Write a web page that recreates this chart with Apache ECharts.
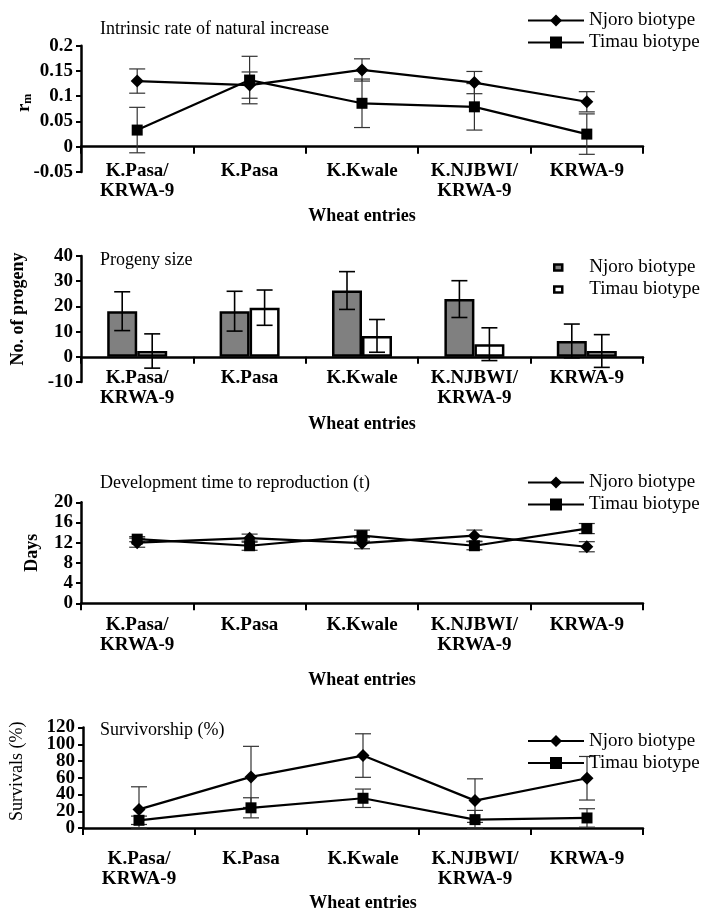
<!DOCTYPE html>
<html><head><meta charset="utf-8">
<script src="https://cdn.jsdelivr.net/npm/echarts@6/dist/echarts.min.js"></script>
<style>html,body{margin:0;padding:0;background:#fff}#c{width:703px;height:913px}</style>
</head><body><div id="c"></div>
<script>
// ---------- data ----------
const categories = ['K.Pasa/\nKRWA-9', 'K.Pasa', 'K.Kwale', 'K.NJBWI/\nKRWA-9', 'KRWA-9'];
const seriesNames = ['Njoro biotype', 'Timau biotype'];

// Panel 1: intrinsic rate of natural increase (rm)
const rmNjoro = [0.130, 0.122, 0.152, 0.127, 0.089];
const rmNjoroErr = [0.024, 0.026, 0.022, 0.022, 0.020];
const rmTimau = [0.033, 0.132, 0.086, 0.079, 0.025];
const rmTimauErr = [0.045, 0.047, 0.048, 0.046, 0.040];
const rmTicks = [-0.05, 0, 0.05, 0.1, 0.15, 0.2];

// Panel 2: progeny size
const progNjoro = [18.1, 18.1, 26.3, 22.9, 6.3];
const progNjoroErr = [7.7, 7.9, 7.5, 7.3, 6.7];
const progTimau = [2.3, 19.5, 8.3, 5.0, 2.3];
const progTimauErr = [6.8, 7.0, 6.5, 6.5, 6.5];
const progTicks = [-10, 0, 10, 20, 30, 40];

// Panel 3: development time to reproduction (days)
const devNjoro = [12.0, 12.9, 11.9, 13.4, 11.2];
const devNjoroErr = [0.9, 0.8, 1.1, 1.1, 1.0];
const devTimau = [12.7, 11.4, 13.4, 11.4, 14.8];
const devTimauErr = [0.5, 0.9, 1.1, 0.8, 1.0];
const devTicks = [0, 4, 8, 12, 16, 20];

// Panel 4: survivorship (%)
const survNjoro = [22.2, 61.0, 86.5, 32.7, 59.4];
const survNjoroErr = [27, 36.5, 26, 26, 26];
const survTimau = [9.2, 24.1, 35.5, 10.0, 12.0];
const survTimauErr = [5, 12, 11, 11, 11];
const survTicks = [0, 20, 40, 60, 80, 100, 120];

// ---------- styling ----------
const FONT = 'Liberation Serif';
const BLACK = '#000';
const DIAMOND = 'path://M5,0 L10,5 L5,10 L0,5 Z';
const BAR_W = 30;

function step(t) { return Number((t[1] - t[0]).toFixed(6)); }

const tickLabelStyle = { fontFamily: FONT, fontSize: 19, fontWeight: 'bold', color: BLACK };

function xAx(gridIndex, labelMargin, nameGap) {
  return {
    type: 'category', gridIndex, data: categories, boundaryGap: true,
    axisLine: { onZero: true, lineStyle: { color: BLACK, width: 2.5 } },
    axisTick: { show: true, length: 7, lineStyle: { color: BLACK, width: 2 } },
    axisLabel: { interval: 0, margin: labelMargin, fontFamily: FONT, fontSize: 19, fontWeight: 'bold', color: BLACK, lineHeight: 20 },
    name: 'Wheat entries', nameLocation: 'middle', nameGap, nameMoveOverlap: false,
    nameTextStyle: { fontFamily: FONT, fontSize: 18, fontWeight: 'bold', color: BLACK }
  };
}
function yAx(gridIndex, ticks, name, nameGap, nameTextStyle, labelValues) {
  const axisLabel = Object.assign({ margin: 8, showMinLabel: true, showMaxLabel: true }, tickLabelStyle);
  const axisTick = { show: true, length: 5, lineStyle: { color: BLACK, width: 2 } };
  if (labelValues) { axisLabel.customValues = labelValues; axisTick.customValues = ticks; }
  return {
    type: 'value', gridIndex, position: 'left', min: ticks[0], max: ticks[ticks.length - 1], interval: step(ticks),
    splitLine: { show: false },
    axisLine: { show: true, onZero: false, lineStyle: { color: BLACK, width: 2.5 } },
    axisTick, axisLabel,
    name, nameLocation: 'middle', nameGap, nameRotate: 90, nameMoveOverlap: false,
    nameTextStyle: Object.assign({ fontFamily: FONT, color: BLACK }, nameTextStyle)
  };
}
// label-only companion axis (dense tick labels split over two axes so none get hidden)
function yLabelAx(gridIndex, ticks, labelValues) {
  return {
    type: 'value', gridIndex, position: 'left', offset: 0,
    min: ticks[0], max: ticks[ticks.length - 1], interval: step(ticks),
    splitLine: { show: false }, axisLine: { show: false }, axisTick: { show: false },
    axisLabel: Object.assign({ margin: 8, customValues: labelValues }, tickLabelStyle)
  };
}
function lineSeries(gridIdx, name, values, symbol, size) {
  return {
    type: 'line', name, xAxisIndex: gridIdx, yAxisIndex: gridIdx, data: values,
    symbol, symbolSize: size, showAllSymbol: true, z: 4,
    itemStyle: { color: BLACK }, lineStyle: { color: BLACK, width: 2.2 }
  };
}
function barSeries(gridIdx, name, values, fill) {
  return {
    type: 'bar', name, xAxisIndex: gridIdx, yAxisIndex: gridIdx, data: values,
    barWidth: BAR_W, barGap: '0%', z: 2,
    itemStyle: { color: fill, borderColor: BLACK, borderWidth: 2.5 }
  };
}
function errorBars(gridIdx, mean, err, opts) {
  return {
    type: 'custom', xAxisIndex: gridIdx, yAxisIndex: gridIdx, silent: true, z: opts.z || 3,
    data: mean.map((m, i) => [i, m - err[i], m + err[i]]),
    encode: { x: 0, y: [1, 2] },
    renderItem(params, api) {
      const cs = params.coordSys;
      const lo = api.coord([api.value(0), api.value(1)]);
      const hi = api.coord([api.value(0), api.value(2)]);
      const x = lo[0] + (opts.offset || 0);
      const yLo = Math.min(lo[1], cs.y + cs.height);
      const yHi = Math.max(hi[1], cs.y);
      const hw = opts.cap / 2;
      const st = { stroke: opts.color, lineWidth: opts.width, fill: null };
      return { type: 'group', children: [
        { type: 'line', shape: { x1: x, y1: yLo, x2: x, y2: yHi }, style: st },
        { type: 'line', shape: { x1: x - hw, y1: yHi, x2: x + hw, y2: yHi }, style: st },
        { type: 'line', shape: { x1: x - hw, y1: yLo, x2: x + hw, y2: yLo }, style: st }
      ] };
    }
  };
}
function lineLegend(top) {
  return {
    top, left: 527, orient: 'vertical', padding: 0, itemWidth: 56, itemHeight: 15, itemGap: 1,
    selectedMode: false, data: seriesNames,
    textStyle: { fontFamily: FONT, fontSize: 19, color: BLACK, lineHeight: 21 }
  };
}
const titleStyle = { fontFamily: FONT, fontSize: 18, fontWeight: 'normal', color: BLACK };
const lineErr = { color: '#333', width: 1.2, cap: 16 };

const survLabelsA = survTicks.filter((v, i) => i % 2 === 0);
const survLabelsB = survTicks.filter((v, i) => i % 2 === 1);

const option = {
  animation: false,
  backgroundColor: '#fff',
  title: [
    { text: 'Intrinsic rate of natural increase', left: 100, top: 20, padding: 0, textStyle: titleStyle },
    { text: 'Progeny size', left: 100, top: 251, padding: 0, textStyle: titleStyle },
    { text: 'Development time to reproduction (t)', left: 100, top: 474, padding: 0, textStyle: titleStyle },
    { text: 'Survivorship (%)', left: 100, top: 721, padding: 0, textStyle: titleStyle }
  ],
  legend: [
    lineLegend(10),
    {
      top: 257, left: 553, orient: 'vertical', padding: 0, itemWidth: 8, itemHeight: 6, itemGap: 1,
      selectedMode: false,
      data: [
        { name: seriesNames[0], icon: 'rect', itemStyle: { color: '#808080', borderColor: BLACK, borderWidth: 2.5 } },
        { name: seriesNames[1], icon: 'rect', itemStyle: { color: '#fff', borderColor: BLACK, borderWidth: 2.5 } }
      ],
      textStyle: { fontFamily: FONT, fontSize: 19, color: BLACK, lineHeight: 21, padding: [0, 0, 0, 22] }
    },
    lineLegend(472),
    lineLegend(730.5)
  ],
  grid: [
    { left: 81, width: 562, top: 45.7, height: 126.3 },
    { left: 81, width: 562, top: 256, height: 126 },
    { left: 81, width: 562, top: 502.3, height: 101 },
    { left: 81, width: 562, top: 727.5, height: 102 }
  ],
  xAxis: [
    xAx(0, -11, 35),
    xAx(1, -14, 33),
    xAx(2, 12, 68),
    xAx(3, 21, 66)
  ],
  yAxis: [
    yAx(0, rmTicks, '{r|r}{m|m}', 47, { padding: [0, 0, 0, 12],
      rich: { r: { fontFamily: FONT, fontSize: 19, fontWeight: 'bold', color: BLACK },
              m: { fontFamily: FONT, fontSize: 12, fontWeight: 'bold', color: BLACK, padding: [8, 0, 0, 0] } } }),
    yAx(1, progTicks, 'No. of progeny', 54, { fontSize: 18, fontWeight: 'bold', padding: [0, 0, 0, 20] }),
    yAx(2, devTicks, 'Days', 40, { fontSize: 18, fontWeight: 'bold' }),
    yAx(3, survTicks, 'Survivals (%)', 57, { fontSize: 18, fontWeight: 'normal', padding: [0, 0, 0, 13] }, survLabelsA),
    yLabelAx(3, survTicks, survLabelsB)
  ],
  series: [
    lineSeries(0, seriesNames[0], rmNjoro, DIAMOND, 13),
    lineSeries(0, seriesNames[1], rmTimau, 'rect', 11),
    errorBars(0, rmNjoro, rmNjoroErr, lineErr),
    errorBars(0, rmTimau, rmTimauErr, lineErr),

    barSeries(1, seriesNames[0], progNjoro, '#808080'),
    barSeries(1, seriesNames[1], progTimau, '#fff'),
    errorBars(1, progNjoro, progNjoroErr, { color: BLACK, width: 1.6, cap: 16, offset: -BAR_W / 2, z: 5 }),
    errorBars(1, progTimau, progTimauErr, { color: BLACK, width: 1.6, cap: 16, offset: BAR_W / 2, z: 5 }),

    lineSeries(2, seriesNames[0], devNjoro, DIAMOND, 13),
    lineSeries(2, seriesNames[1], devTimau, 'rect', 11),
    errorBars(2, devNjoro, devNjoroErr, lineErr),
    errorBars(2, devTimau, devTimauErr, lineErr),

    lineSeries(3, seriesNames[0], survNjoro, DIAMOND, 13),
    lineSeries(3, seriesNames[1], survTimau, 'rect', 11),
    errorBars(3, survNjoro, survNjoroErr, lineErr),
    errorBars(3, survTimau, survTimauErr, lineErr)
  ]
};
const chart = echarts.init(document.getElementById('c'), null, { renderer: 'canvas' });
chart.setOption(option);
</script>
</body></html>
